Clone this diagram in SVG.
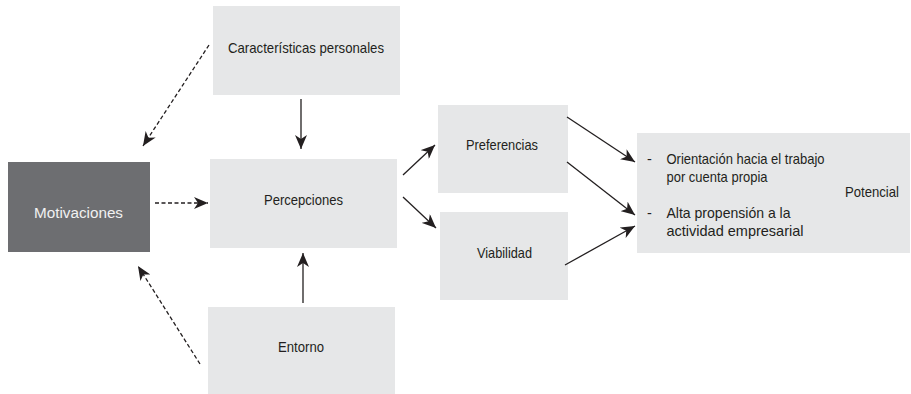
<svg xmlns="http://www.w3.org/2000/svg" width="911" height="394" viewBox="0 0 911 394">
<defs>
<marker id="ah" markerUnits="userSpaceOnUse" markerWidth="16" markerHeight="12" refX="14" refY="6" orient="auto">
<path d="M0,0 L14,6 L0,12 L4,6 Z" fill="#231f20"/>
</marker>
</defs>
<style>
.box{fill:#e6e7e8}
.dark{fill:#6d6e71}
.t{font-family:"Liberation Sans",Arial,sans-serif;font-size:14.5px;fill:#231f20}
.c{text-anchor:middle}
.w{fill:#f1f1f2;font-size:15.5px}
.ln{stroke:#231f20;stroke-width:1.3;fill:none;marker-end:url(#ah)}
.dash{stroke-dasharray:4 2.5}
</style>
<rect width="911" height="394" fill="#ffffff"/>
<g id="caracteristicas">
<rect class="box" x="213" y="6" width="187" height="89"/>
<text class="t c" x="306" y="53" textLength="156" lengthAdjust="spacingAndGlyphs">Características personales</text>
</g>
<g id="percepciones">
<rect class="box" x="210" y="159" width="187" height="89"/>
<text class="t c" x="303.5" y="205" textLength="79" lengthAdjust="spacingAndGlyphs">Percepciones</text>
</g>
<g id="motivaciones">
<rect class="dark" x="8" y="162" width="142" height="90"/>
<text class="t c w" x="78.5" y="218" textLength="89" lengthAdjust="spacingAndGlyphs">Motivaciones</text>
</g>
<g id="entorno">
<rect class="box" x="208" y="307" width="187" height="87"/>
<text class="t c" x="301" y="352" textLength="46" lengthAdjust="spacingAndGlyphs">Entorno</text>
</g>
<g id="preferencias">
<rect class="box" x="438" y="105" width="130" height="88"/>
<text class="t c" x="502" y="150" textLength="72" lengthAdjust="spacingAndGlyphs">Preferencias</text>
</g>
<g id="viabilidad">
<rect class="box" x="440" y="212" width="128" height="88"/>
<text class="t c" x="504.5" y="258" textLength="55" lengthAdjust="spacingAndGlyphs">Viabilidad</text>
</g>
<g id="potencial">
<rect class="box" x="637" y="133" width="273" height="120"/>
<text class="t" x="647" y="164">-</text>
<text class="t" x="666.5" y="164" textLength="158" lengthAdjust="spacingAndGlyphs">Orientación hacia el trabajo</text>
<text class="t" x="666.5" y="182" textLength="101" lengthAdjust="spacingAndGlyphs">por cuenta propia</text>
<text class="t" x="647" y="218">-</text>
<text class="t" x="666.5" y="218" textLength="124" lengthAdjust="spacingAndGlyphs">Alta propensión a la</text>
<text class="t" x="666.5" y="236" textLength="137" lengthAdjust="spacingAndGlyphs">actividad empresarial</text>
<text class="t c" x="872" y="197" textLength="54" lengthAdjust="spacingAndGlyphs">Potencial</text>
</g>
<g id="connectors">
<line class="ln dash" x1="209" y1="45" x2="143" y2="146"/>
<line class="ln" x1="301" y1="99" x2="301" y2="149"/>
<line class="ln dash" x1="155" y1="203" x2="208" y2="203"/>
<line class="ln" x1="303" y1="303" x2="303" y2="253"/>
<line class="ln dash" x1="200" y1="364" x2="138" y2="266"/>
<line class="ln" x1="403" y1="175" x2="435" y2="145"/>
<line class="ln" x1="403" y1="197" x2="436" y2="228"/>
<line class="ln" x1="567" y1="117" x2="635" y2="162"/>
<line class="ln" x1="567" y1="162" x2="635" y2="215"/>
<line class="ln" x1="565" y1="265" x2="635" y2="226"/>
</g>
</svg>
